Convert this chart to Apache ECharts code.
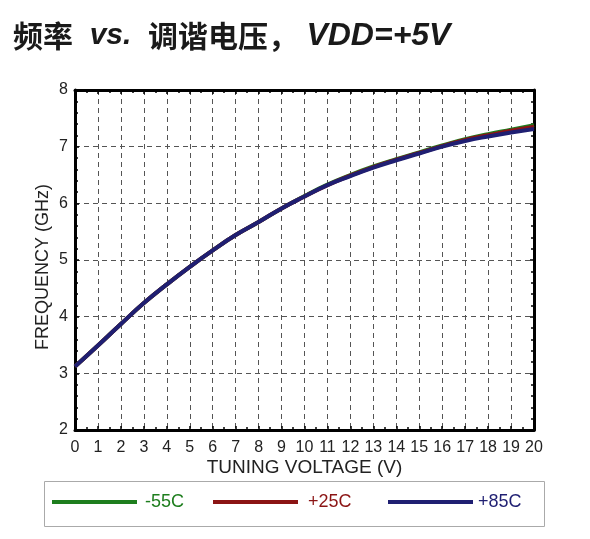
<!DOCTYPE html>
<html>
<head>
<meta charset="utf-8">
<script src="https://cdn.jsdelivr.net/npm/echarts@6/dist/echarts.min.js"></script>
<style>
html,body{margin:0;padding:0;background:#fff;}
#c{width:590px;height:539px;}
</style>
</head>
<body>
<div id="c"></div>
<script>
var voltages = [0,1,2,3,4,5,6,7,8,9,10,11,12,13,14,15,16,17,18,19,20];
var freqM55 = [3.12,3.49,3.87,4.24,4.57,4.88,5.17,5.44,5.67,5.91,6.13,6.33,6.50,6.65,6.78,6.90,7.02,7.13,7.22,7.30,7.38];
var freqP25 = [3.12,3.49,3.87,4.24,4.57,4.88,5.17,5.44,5.67,5.91,6.12,6.32,6.49,6.64,6.77,6.89,7.01,7.12,7.20,7.28,7.35];
var freqP85 = [3.12,3.49,3.87,4.24,4.57,4.88,5.17,5.44,5.67,5.91,6.12,6.32,6.48,6.63,6.76,6.88,7.00,7.10,7.18,7.25,7.31];
var seriesNames = ['-55C','+25C','+85C'];
var seriesColors = ['#1e7e1e','#8b1414','#1f1f72'];
var xTicks = {min:0, max:20, interval:1};
var yTicks = {min:2, max:8, interval:1};

function pairs(ys){ return voltages.map(function(v,i){ return [v, ys[i]]; }); }

var chart = echarts.init(document.getElementById('c'));
var fontLatin = 'Liberation Sans, Arial, sans-serif';
var gridLine = {show:true, lineStyle:{color:'#555', width:1, type:[5,4]}};
function mkX(pos, main){
  return {
    type:'value', position:pos, min:xTicks.min, max:xTicks.max, interval:xTicks.interval,
    axisLine:{show:true, onZero:false, lineStyle:{color:'#000', width:3}},
    axisTick:{show:true, inside:true, length:4, lineStyle:{color:'#000', width:1.5}},
    minorTick:{show:true, splitNumber:2, length:3, lineStyle:{color:'#000', width:1.5}},
    axisLabel:{show:main, color:'#222', fontSize:16, fontFamily:fontLatin, margin:10},
    splitLine: main ? gridLine : {show:false},
    name: main ? 'TUNING VOLTAGE (V)' : '',
    nameLocation:'middle', nameGap:28, nameMoveOverlap:false,
    nameTextStyle:{color:'#222', fontSize:19, fontFamily:fontLatin}
  };
}
function mkY(pos, main){
  return {
    type:'value', position:pos, min:yTicks.min, max:yTicks.max, interval:yTicks.interval,
    axisLine:{show:true, onZero:false, lineStyle:{color:'#000', width:3}},
    axisTick:{show:true, inside:true, length:4, lineStyle:{color:'#000', width:1.5}},
    minorTick:{show:true, splitNumber:5, length:3, lineStyle:{color:'#000', width:1.5}},
    axisLabel:{show:main, color:'#222', fontSize:16, fontFamily:fontLatin, margin:7},
    splitLine: main ? gridLine : {show:false},
    name: main ? 'FREQUENCY (GHz)' : '',
    nameLocation:'middle', nameGap:23, nameRotate:90, nameMoveOverlap:false,
    nameTextStyle:{color:'#222', fontSize:18, fontFamily:fontLatin, padding:[0,14,0,0]}
  };
}
var legendPos = [52, 213, 388];
var legendPad = [3, 5, 0];
var legends = seriesNames.map(function(n,i){
  return {
    data:[n], left:legendPos[i], top:493, icon:'rect', itemWidth:85, itemHeight:4,
    selectedMode:false, padding:0,
    textStyle:{color:seriesColors[i], fontSize:18, fontFamily:fontLatin, padding:[0,0,0,legendPad[i]]}
  };
});
var series = [freqM55, freqP25, freqP85].map(function(d,i){
  return {
    name:seriesNames[i], type:'line', xAxisIndex:0, yAxisIndex:0,
    data:pairs(d), smooth:true, showSymbol:false, symbol:'none',
    lineStyle:{color:seriesColors[i], width:4}, itemStyle:{color:seriesColors[i]},
    z:2+i, animation:false
  };
});
chart.setOption({
  animation:false,
  title:{
    left:8, top:13,
    text:'{c|频率}{v|  vs.  }{c|调谐电压，}{s| }{l|VDD=+5V}',
    textStyle:{
      rich:{
        c:{fontFamily:'Noto Sans CJK SC', fontWeight:'bold', fontSize:30, color:'#1a1a1a', lineHeight:36},
        s:{fontFamily:fontLatin, fontWeight:'bold', fontSize:30, color:'#1a1a1a', lineHeight:36},
        v:{fontFamily:fontLatin, fontWeight:'bold', fontStyle:'italic', fontSize:30, color:'#1a1a1a', lineHeight:36},
        l:{fontFamily:fontLatin, fontWeight:'bold', fontStyle:'italic', fontSize:32, color:'#1a1a1a', lineHeight:36}
      }
    }
  },
  grid:{left:75, right:56, top:90, bottom:109},
  xAxis:[mkX('bottom', true), mkX('top', false)],
  yAxis:[mkY('left', true), mkY('right', false)],
  legend:legends,
  graphic:[{
    type:'rect', left:42, top:479, shape:{width:500, height:45},
    style:{fill:'none', stroke:'#aaa', lineWidth:1}, silent:true
  }],
  series:series
});
</script>
</body>
</html>
